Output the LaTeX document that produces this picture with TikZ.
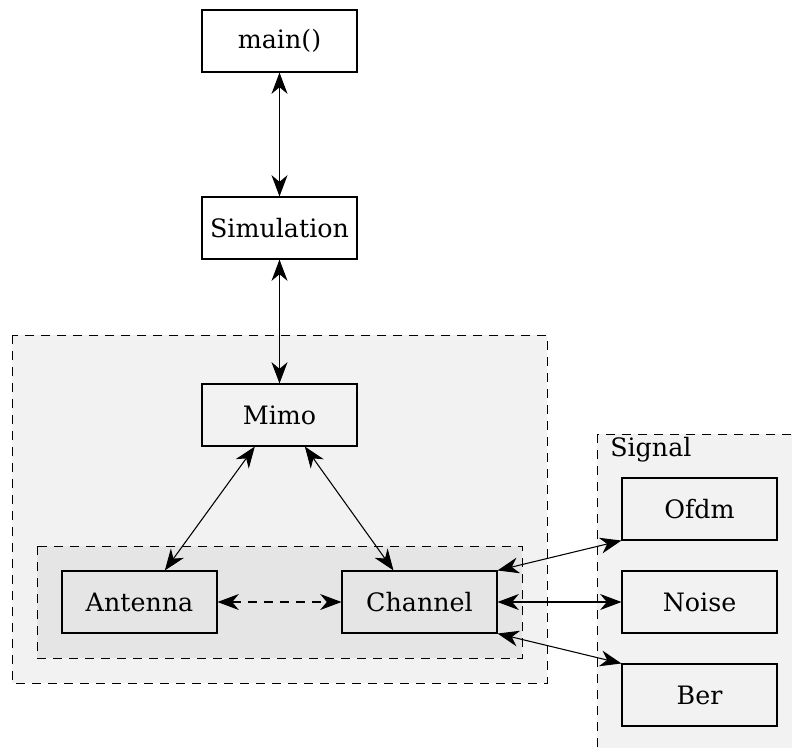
\documentclass[tikz,border=0pt]{standalone}
\usepackage{fontspec}
\setmainfont{DejaVu Serif}
\usepackage{tikz}
\usetikzlibrary{arrows.meta}

\tikzset{
	block/.style={draw,thick,minimum width=116.25pt,minimum height=46.5pt,inner sep=0pt,font=\fontsize{19}{21}\selectfont},
	cluster/.style={draw,semithick,dash pattern=on 7pt off 5pt},
	link/.style={{Stealth[length=16pt,width=12pt,inset=5pt]}-{Stealth[length=16pt,width=12pt,inset=5pt]},thick},
}

\begin{document}
\begin{tikzpicture}[x=0.75pt,y=-0.75pt,node distance=140.25pt]
	\clip (0,0) rectangle (792,747);
	% clusters
	\path[cluster,fill=black!5] (12,335) rectangle (547,683);
	\path[cluster,fill=black!10] (37,546) rectangle (522,658);
	\path[cluster,fill=black!5] (597,434) rectangle (800,760);
	\node[anchor=west,inner sep=0pt,font=\fontsize{19}{21}\selectfont] (signal) at (610,450) {Signal};

	\node[block,fill=white] (main) at (279.5,41) {main()};
	\node[block,fill=white] (simulation) [below of=main]       {Simulation};
	\node[block]            (mimo)       [below of=simulation] {Mimo};
	\node[block]            (antenna)    [below of=mimo,xshift=-105pt] {Antenna};
	\node[block]            (channel)    [right of=antenna,node distance=210pt] {Channel};
	\node[block]            (noise)      [right of=channel,node distance=210pt] {Noise};
	\node[block]            (ofdm)       [above of=noise,node distance=69.75pt] {Ofdm};
	\node[block]            (ber)        [below of=noise,node distance=69.75pt] {Ber};

	\draw[link] (main) -- (simulation);
	\draw[link] (simulation) -- (mimo);
	\draw[link] ([xshift=-18.5pt]mimo.south) -- ([xshift=19pt]antenna.north);
	\draw[link] ([xshift=19pt]mimo.south) -- ([xshift=-19.5pt]channel.north);
	\draw[link,dash pattern=on 7pt off 5pt] (antenna) -- (channel);
	\draw[link] (channel.north east) -- (ofdm.south west);
	\draw[link] (channel) -- (noise);
	\draw[link] (channel.south east) -- (ber.north west);
\end{tikzpicture}
\end{document}
